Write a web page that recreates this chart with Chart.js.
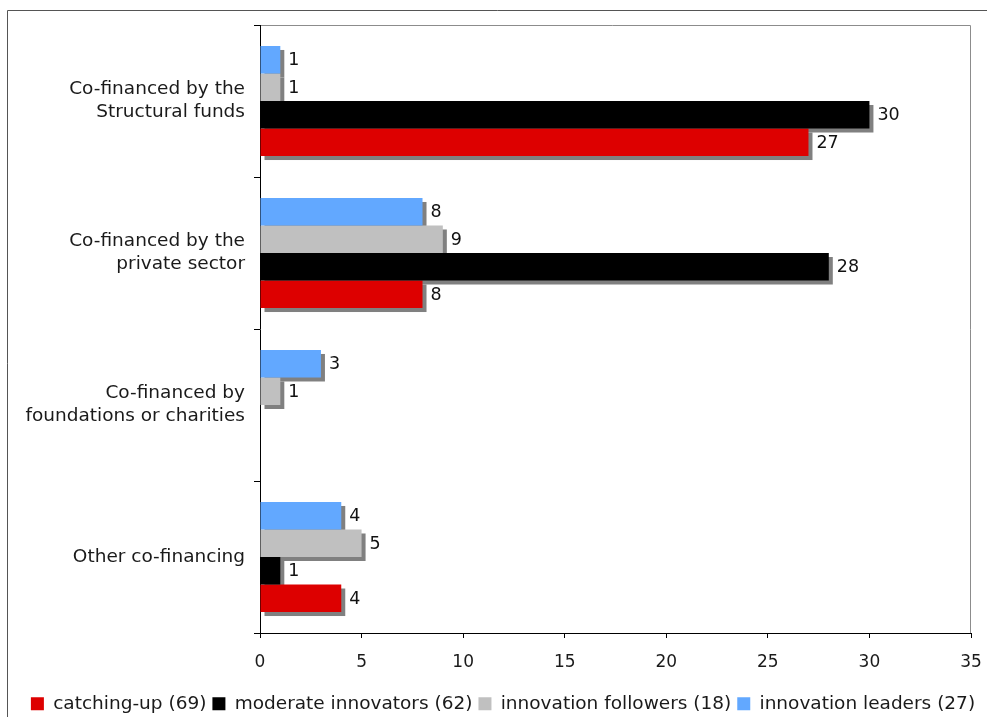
<!DOCTYPE html>
<html lang="en">
<head>
  <meta charset="UTF-8" />
  <title>Co-financing by innovation group</title>
  <style>
    body {
      margin: 0;
      background-color: #fff;
    }
    #wrap {
      width: 987px;
      height: 717px;
    }
  </style>
</head>
<body>
  <div id="wrap">
    <canvas id="cofinChart" width="987" height="717"></canvas>
  </div>

  <script src="https://cdn.jsdelivr.net/npm/chart.js"></script>
  <script>
    const categories = [
      ['Co-financed by the', 'Structural funds'],
      ['Co-financed by the', 'private sector'],
      ['Co-financed by', 'foundations or charities'],
      'Other co-financing'
    ];
    const leaders = [1, 8, 3, 4];
    const followers = [1, 9, 1, 5];
    const moderate = [30, 28, 0, 1];
    const catchingUp = [27, 8, 0, 4];
    const xTicks = [0, 5, 10, 15, 20, 25, 30, 35];

    const FONT = 'DejaVu Sans, Verdana, sans-serif';

    // grey drop shadow behind every bar, painted before the bars themselves
    const barShadow = {
      id: 'barShadow',
      beforeDatasetsDraw(chart) {
        const ctx = chart.ctx;
        ctx.save();
        ctx.fillStyle = '#808080';
        chart.data.datasets.forEach((ds, i) => {
          chart.getDatasetMeta(i).data.forEach((bar, j) => {
            if (!ds.data[j]) return;
            const p = bar.getProps(['x', 'y', 'base', 'height'], true);
            ctx.fillRect(p.base + 4, p.y - p.height / 2 + 4, p.x - p.base, p.height);
          });
        });
        ctx.restore();
      }
    };

    // value printed at the end of each bar
    const valueLabels = {
      id: 'valueLabels',
      afterDatasetsDraw(chart) {
        const ctx = chart.ctx;
        ctx.save();
        ctx.font = '17.5px ' + FONT;
        ctx.fillStyle = '#111';
        ctx.textBaseline = 'middle';
        ctx.textAlign = 'left';
        chart.data.datasets.forEach((ds, i) => {
          chart.getDatasetMeta(i).data.forEach((bar, j) => {
            const v = ds.data[j];
            if (!v) return;
            ctx.fillText(String(v), bar.x + 8, bar.y + 1);
          });
        });
        ctx.restore();
      }
    };

    // plot frame on top/right and the outer box around the figure
    const frames = {
      id: 'frames',
      beforeDraw(chart) {
        const ctx = chart.ctx;
        const a = chart.chartArea;
        ctx.save();
        ctx.lineWidth = 1;
        ctx.strokeStyle = '#555';
        ctx.beginPath();
        ctx.moveTo(7.5, 717);
        ctx.lineTo(7.5, 10.5);
        ctx.lineTo(987, 10.5);
        ctx.stroke();

        ctx.strokeStyle = '#8c8c8c';
        ctx.beginPath();
        ctx.moveTo(a.left - 6, a.top + 0.5);
        ctx.lineTo(a.right - 0.5, a.top + 0.5);
        ctx.lineTo(a.right - 0.5, a.bottom);
        ctx.stroke();
        ctx.restore();
      }
    };

    const ctx = document.getElementById('cofinChart').getContext('2d');
    const chart = new Chart(ctx, {
      type: 'bar',
      data: {
        labels: categories,
        datasets: [
          { label: 'innovation leaders (27)', data: leaders, backgroundColor: '#62a8ff' },
          { label: 'innovation followers (18)', data: followers, backgroundColor: '#c0c0c0' },
          { label: 'moderate innovators (62)', data: moderate, backgroundColor: '#000000' },
          { label: 'catching-up (69)', data: catchingUp, backgroundColor: '#dd0000' }
        ]
      },
      options: {
        indexAxis: 'y',
        responsive: false,
        animation: false,
        devicePixelRatio: 1,
        categoryPercentage: 0.724,
        barPercentage: 1,
        layout: {
          padding: { left: 19, top: 25, right: 0, bottom: -6 }
        },
        scales: {
          x: {
            min: 0,
            max: 35,
            afterBuildTicks: (s) => { s.ticks = xTicks.map(v => ({ value: v })); },
            afterFit: (s) => {
              s.height = 55.5;
              s.paddingLeft = 0;
              s.paddingRight = 16;
            },
            grid: { drawOnChartArea: false, tickLength: 5, color: '#000' },
            border: { color: '#000', width: 1 },
            ticks: {
              color: '#1a1a1a',
              padding: 14,
              font: { family: FONT, size: 17 }
            }
          },
          y: {
            offset: true,
            afterFit: (s) => { s.width = 241; },
            grid: { offset: true, drawOnChartArea: false, tickLength: 6, color: '#000' },
            border: { color: '#000', width: 1 },
            ticks: {
              color: '#1a1a1a',
              padding: 9,
              font: { family: FONT, size: 18.5, lineHeight: 1.25 }
            }
          }
        },
        plugins: {
          legend: {
            position: 'bottom',
            reverse: true,
            labels: {
              boxWidth: 13,
              boxHeight: 13,
              padding: 6,
              color: '#1a1a1a',
              font: { family: FONT, size: 18.5 }
            }
          },
          tooltip: { enabled: false }
        }
      },
      plugins: [frames, barShadow, valueLabels]
    });
  </script>
</body>
</html>
